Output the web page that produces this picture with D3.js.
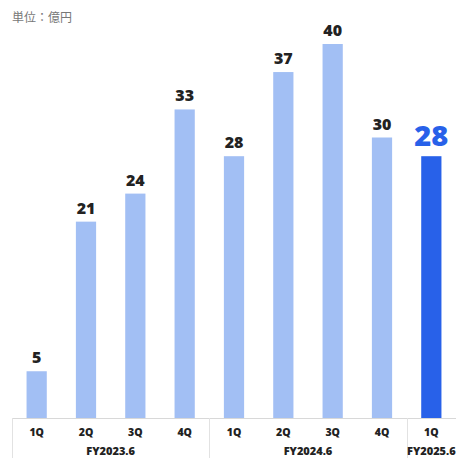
<!DOCTYPE html>
<html>
<head>
<meta charset="utf-8">
<script src="https://cdn.jsdelivr.net/npm/d3@7"></script>
<style>
  body { margin: 0; background: #fff; }
  svg text { font-family: "Open Sans", "Noto Sans", sans-serif; }
</style>
</head>
<body>
<div id="chart"></div>
<script>
var width = 462;
var height = 461;

// data
var quarters = ["1Q", "2Q", "3Q", "4Q", "1Q", "2Q", "3Q", "4Q", "1Q"];
var values = [5, 21, 24, 33, 28, 37, 40, 30, 28];
var fiscalYears = ["FY2023.6", "FY2024.6", "FY2025.6"];
var yearSpans = [4, 4, 1];   // number of quarters in each fiscal year
var unitLabel = "単位：億円";

var highlightIndex = values.length - 1;

var margin = { left: 12, right: 6, baseline: 418 };

var svg = d3.select("#chart")
  .append("svg")
  .attr("width", width)
  .attr("height", height);

var ids = d3.range(values.length);

var x_scale = d3.scaleBand()
  .domain(ids)
  .range([margin.left, width - margin.right])
  .paddingInner(0.59)
  .paddingOuter(0.295);

var step = x_scale.step();
var x0 = margin.left;

var y_scale = d3.scaleLinear()
  .domain([0, 40])
  .range([margin.baseline, 44]);

// unit label
svg.append("text")
  .attr("x", 12)
  .attr("y", 22)
  .style("font-size", "12px")
  .style("fill", "#777")
  .style("font-family", "'Noto Sans CJK JP', sans-serif")
  .text(unitLabel);

// bars
svg.selectAll(".bar")
  .data(ids)
  .enter()
  .append("rect")
  .attr("class", "bar")
  .attr("x", d => x_scale(d))
  .attr("y", d => y_scale(values[d]))
  .attr("width", x_scale.bandwidth())
  .attr("height", d => margin.baseline - y_scale(values[d]))
  .style("fill", d => d == highlightIndex ? "#2861e9" : "#a2bff4");

// value labels
svg.selectAll(".label")
  .data(ids)
  .enter()
  .append("text")
  .attr("class", "label")
  .attr("x", d => x_scale(d) + x_scale.bandwidth() / 2)
  .attr("y", d => y_scale(values[d]) - (d == highlightIndex ? 10 : 8))
  .attr("text-anchor", "middle")
  .style("font-weight", "800")
  .style("font-size", d => d == highlightIndex ? "29px" : "16px")
  .style("fill", d => d == highlightIndex ? "#2861e9" : "#222")
  .text(d => values[d]);

// baseline axis
var xAxis = d3.axisBottom(x_scale)
  .tickSize(0)
  .tickFormat(d => quarters[d]);

var axis_bottom = svg.append("g")
  .attr("transform", "translate(0," + margin.baseline + ")")
  .call(xAxis);

axis_bottom.select(".domain")
  .attr("d", "M" + x0 + ",0.5H" + (width - margin.right))
  .style("stroke", "#d8d8d8");

axis_bottom.selectAll("text")
  .attr("dy", 0)
  .attr("y", 18)
  .style("font-size", "10.5px")
  .style("font-weight", "800")
  .style("fill", "#222")
  .style("font-family", "'Open Sans', sans-serif");

// fiscal year groups
var starts = [];
var acc = 0;
yearSpans.forEach(function(n) { starts.push(acc); acc += n; });

var groups = svg.selectAll(".fy")
  .data(fiscalYears)
  .enter()
  .append("g")
  .attr("class", "fy");

groups.append("line")
  .attr("x1", (d, i) => Math.round(x0 + starts[i] * step) + 0.5)
  .attr("x2", (d, i) => Math.round(x0 + starts[i] * step) + 0.5)
  .attr("y1", margin.baseline)
  .attr("y2", margin.baseline + 40)
  .style("stroke", "#e2e2e2");

groups.append("text")
  .attr("x", (d, i) => x0 + (starts[i] + yearSpans[i] / 2) * step)
  .attr("y", margin.baseline + 37)
  .attr("text-anchor", "middle")
  .style("font-size", "11px")
  .style("font-weight", "800")
  .style("fill", "#222")
  .text(d => d);
</script>
</body>
</html>
